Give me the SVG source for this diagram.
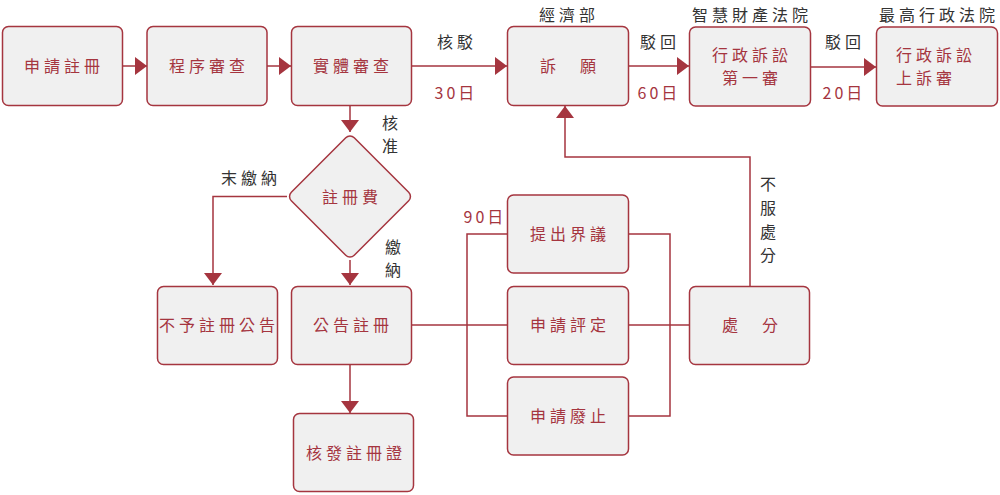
<svg xmlns="http://www.w3.org/2000/svg" width="1000" height="495" viewBox="0 0 1000 495">
<defs>
<style>
.box{fill:#f0f0f0;stroke:#a5353f;stroke-width:1.5}
.bt{font-family:"Noto Sans CJK TC","Noto Sans",sans-serif;font-size:16px;fill:#a5353f;letter-spacing:4px;text-anchor:middle}
.lt{font-family:"Noto Sans CJK TC","Noto Sans",sans-serif;font-size:16px;fill:#333;letter-spacing:4px;text-anchor:middle}
.rt{font-family:"Noto Sans CJK TC","Noto Sans",sans-serif;font-size:16px;fill:#a5353f;letter-spacing:3px;text-anchor:middle}
.ln{fill:none;stroke:#a5353f;stroke-width:1.5}
</style>
<marker id="arr" markerUnits="userSpaceOnUse" markerWidth="12" markerHeight="18" refX="12" refY="9" orient="auto">
<path d="M0,0 L12,9 L0,18 Z" fill="#a5353f"/>
</marker>
</defs>
<rect width="1000" height="495" fill="#ffffff"/>
<g id="connectors">
<path class="ln" d="M122.5,66 H147" marker-end="url(#arr)"/>
<path class="ln" d="M267,66 H291" marker-end="url(#arr)"/>
<path class="ln" d="M412,66 H507" marker-end="url(#arr)"/>
<path class="ln" d="M629,66 H689" marker-end="url(#arr)"/>
<path class="ln" d="M811,67 H876" marker-end="url(#arr)"/>
<path class="ln" d="M350,105 V132" marker-end="url(#arr)"/>
<path class="ln" d="M287,196.5 H213 V285" marker-end="url(#arr)"/>
<path class="ln" d="M350,260 V285" marker-end="url(#arr)"/>
<path class="ln" d="M350,364 V413" marker-end="url(#arr)"/>
<path class="ln" d="M412,325 H507"/>
<path class="ln" d="M507,234 H467 V416 H507"/>
<path class="ln" d="M629,234 H670 V416 H629"/>
<path class="ln" d="M629,325 H689"/>
<path class="ln" d="M750,286 V157 H565 V106" marker-end="url(#arr)"/>
</g>
<g id="labels">
<text class="lt" x="457" y="48">核駁</text>
<text class="rt" x="456" y="99">30日</text>
<text class="lt" x="569" y="21">經濟部</text>
<text class="lt" x="660" y="48">駁回</text>
<text class="rt" x="659" y="99">60日</text>
<text class="lt" x="752" y="21">智慧財產法院</text>
<text class="lt" x="845" y="48">駁回</text>
<text class="rt" x="844" y="99">20日</text>
<text class="lt" x="939" y="21">最高行政法院</text>
<text class="lt" x="392" y="129">核</text>
<text class="lt" x="392" y="152">准</text>
<text class="lt" x="251" y="184">末繳納</text>
<text class="lt" x="395" y="253">繳</text>
<text class="lt" x="395" y="276">納</text>
<text class="rt" x="485" y="223">90日</text>
<text class="lt" x="770" y="190">不</text>
<text class="lt" x="770" y="214">服</text>
<text class="lt" x="770" y="238">處</text>
<text class="lt" x="770" y="261">分</text>
</g>
<g id="n1"><rect class="box" x="2.5" y="26.5" width="120" height="79" rx="6"/><text class="bt" x="64" y="72">申請註冊</text></g>
<g id="n2"><rect class="box" x="147" y="26.5" width="120" height="79" rx="6"/><text class="bt" x="209" y="72">程序審查</text></g>
<g id="n3"><rect class="box" x="291.5" y="26.5" width="120" height="79" rx="6"/><text class="bt" x="353" y="72">實體審查</text></g>
<g id="n4"><rect class="box" x="507.5" y="26.5" width="121" height="79" rx="6"/><text class="bt" x="570" y="72">訴　願</text></g>
<g id="n5"><rect class="box" x="689.5" y="27" width="121" height="79" rx="6"/><text class="bt" x="752" y="61">行政訴訟</text><text class="bt" x="752" y="84">第一審</text></g>
<g id="n6"><rect class="box" x="876.5" y="27" width="121" height="79" rx="6"/><text class="bt" x="896" y="61" style="text-anchor:start">行政訴訟</text><text class="bt" x="896" y="84" style="text-anchor:start">上訴審</text></g>
<g id="n7"><rect class="box" x="-44.5" y="-44.5" width="89" height="89" rx="6" transform="translate(350,196.5) rotate(45)"/><text class="bt" x="352" y="203">註冊費</text></g>
<g id="n8"><rect class="box" x="157.5" y="286.5" width="120" height="78" rx="6"/><text class="bt" x="219" y="331">不予註冊公告</text></g>
<g id="n9"><rect class="box" x="291.5" y="286.5" width="120" height="78" rx="6"/><text class="bt" x="353" y="331">公告註冊</text></g>
<g id="n10"><rect class="box" x="293.5" y="413.5" width="120" height="78" rx="6"/><text class="bt" x="356" y="459">核發註冊證</text></g>
<g id="n11"><rect class="box" x="507.5" y="195" width="121" height="78" rx="6"/><text class="bt" x="570" y="240">提出界議</text></g>
<g id="n12"><rect class="box" x="507.5" y="286.5" width="121" height="78" rx="6"/><text class="bt" x="570" y="331">申請評定</text></g>
<g id="n13"><rect class="box" x="507.5" y="377" width="121" height="78" rx="6"/><text class="bt" x="570" y="422">申請廢止</text></g>
<g id="n14"><rect class="box" x="689.5" y="286.5" width="120" height="78" rx="6"/><text class="bt" x="752" y="331">處　分</text></g>
</svg>
